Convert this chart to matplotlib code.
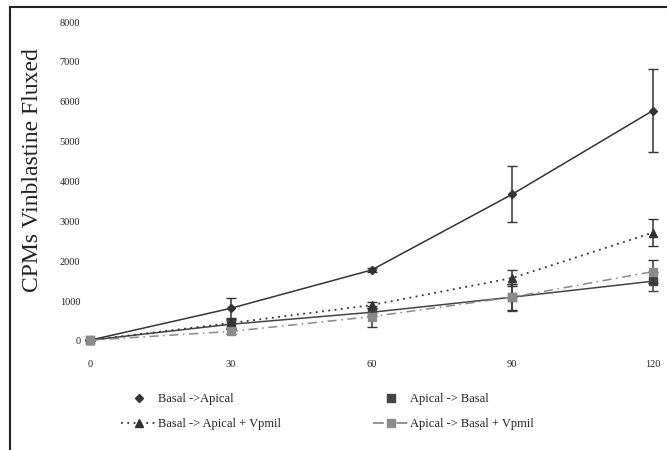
import matplotlib
matplotlib.use("Agg")
import matplotlib.pyplot as plt
from matplotlib.lines import Line2D

plt.rcParams['font.family'] = ['Liberation Serif', 'DejaVu Serif']

time_min = [0, 30, 60, 90, 120]
basal_apical = [20, 820, 1780, 3680, 5780]
basal_apical_err = [0, 270, 40, 700, 1050]
apical_basal = [20, 420, 720, 1100, 1500]
apical_basal_err = [0, 110, 100, 340, 240]
basal_apical_vp = [20, 450, 900, 1580, 2720]
basal_apical_vp_err = [0, 120, 80, 200, 340]
apical_basal_vp = [20, 240, 610, 1100, 1740]
apical_basal_vp_err = [0, 60, 260, 320, 280]
xticks = [0, 30, 60, 90, 120]
yticks = [0, 1000, 2000, 3000, 4000, 5000, 6000, 7000, 8000]

W, H = 667, 450
fig = plt.figure(figsize=(W/100, H/100), dpi=100)
ax = fig.add_axes([90/W, (H-341)/H, (653-90)/W, (341-22)/H])

dark = '#333333'
dark2 = '#444444'
gray = '#8a8a8a'

ax.errorbar(time_min, basal_apical, yerr=basal_apical_err, color=dark, lw=1.1,
            marker='D', ms=4.5, capsize=3.5, elinewidth=1.1, clip_on=False, zorder=3)
ax.errorbar(time_min, apical_basal, yerr=apical_basal_err, color=dark2, lw=1.1,
            marker='s', ms=6, capsize=3.5, elinewidth=1.1, clip_on=False, zorder=3)
ax.errorbar(time_min, basal_apical_vp, yerr=basal_apical_vp_err, color=dark, lw=1.3,
            ls=(0, (1, 2.5)), marker='^', ms=6, capsize=3.5, elinewidth=1.1,
            clip_on=False, zorder=3)
ax.errorbar(time_min, apical_basal_vp, yerr=apical_basal_vp_err, color=gray, lw=1.1,
            ls=(0, (6, 3, 1, 3)), marker='s', ms=6, capsize=3.5, elinewidth=1.1,
            ecolor=dark, clip_on=False, zorder=4)

ax.set_xlim(0, 120)
ax.set_ylim(0, 8000)
ax.set_xticks(xticks)
ax.set_yticks(yticks)
ax.set_xticklabels([str(v) for v in xticks])
ax.set_yticklabels([str(v) for v in yticks])
ax.tick_params(axis='both', length=0, labelsize=7.5, colors='#222222')
ax.tick_params(axis='y', pad=7)
ax.tick_params(axis='x', pad=14)
for s in ax.spines.values():
    s.set_visible(False)

fig.text(33/W, 1 - 170/H, 'CPMs Vinblastine Fluxed', rotation=90,
         ha='center', va='center', fontsize=17, color='#222222')

# figure frame (top and left)
fig.add_artist(Line2D([10/W, 1], [1-7/H, 1-7/H], color='#222222', lw=1.5,
                      transform=fig.transFigure))
fig.add_artist(Line2D([10/W, 10/W], [0, 1-7/H], color='#222222', lw=1.5,
                      transform=fig.transFigure))

h_ba = Line2D([], [], color=dark, ls='none', marker='D', ms=4.5)
h_bav = Line2D([], [], color=dark, lw=1.3, ls=(0, (1, 2.5)), marker='^', ms=6)
h_ab = Line2D([], [], color=dark2, ls='none', marker='s', ms=6)
h_abv = Line2D([], [], color=gray, lw=1.3, ls=(0, (6, 3, 1, 3)), marker='s', ms=6)

leg1 = fig.legend([h_ba, h_bav], ['Basal ->Apical', 'Basal -> Apical + Vpmil'],
                  loc='upper left', bbox_to_anchor=(121/W, 1-393/H), frameon=False,
                  fontsize=9, handlelength=2.8, handletextpad=0.2, borderpad=0,
                  labelspacing=1.05, borderaxespad=0)
leg2 = fig.legend([h_ab, h_abv], ['Apical -> Basal', 'Apical -> Basal + Vpmil'],
                  loc='upper left', bbox_to_anchor=(373/W, 1-393/H), frameon=False,
                  fontsize=9, handlelength=2.8, handletextpad=0.2, borderpad=0,
                  labelspacing=1.05, borderaxespad=0)
for leg in (leg1, leg2):
    for t in leg.get_texts():
        t.set_color('#222222')

fig.savefig('out.png', dpi=100)
